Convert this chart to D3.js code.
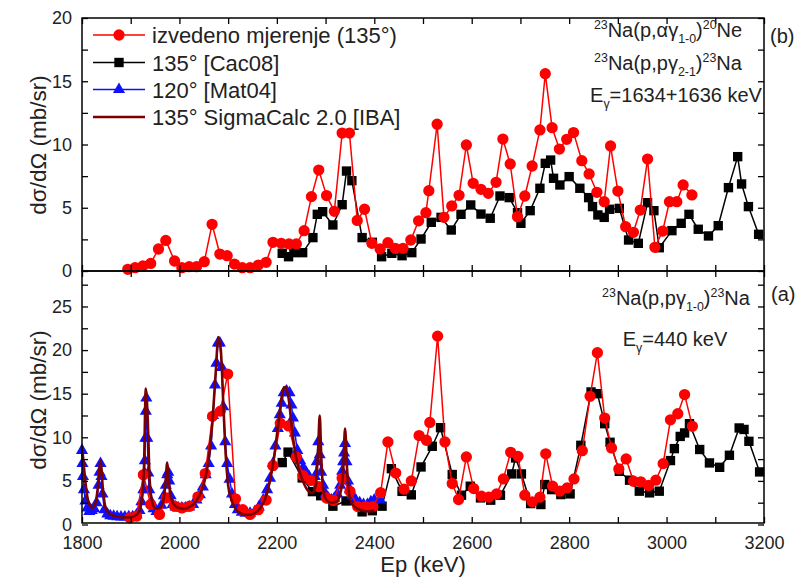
<!DOCTYPE html>
<html><head><meta charset="utf-8">
<script src="https://cdn.jsdelivr.net/npm/d3@7"></script>
<style>body{margin:0;background:#fff} text{font-family:"Liberation Sans",Arial,sans-serif}</style>
</head><body><svg id="c" width="798" height="580"></svg>
<script>
// ---------- DATA ----------
const xTickLabels = [1800, 2000, 2200, 2400, 2600, 2800, 3000, 3200];
const xMinorTicks = [1800,1900,2000,2100,2200,2300,2400,2500,2600,2700,2800,2900,3000,3100,3200];
const topYLabels = [0, 5, 10, 15, 20];
const topYMinor = [0,2.5,5,7.5,10,12.5,15,17.5,20];
const botYLabels = [0, 5, 10, 15, 20, 25];
const botYMinor = [0,2.5,5,7.5,10,12.5,15,17.5,20,22.5,25,27.5];

// panel (b) - red: izvedeno mjerenje (135°)
const topRed = [[1894,0.13],[1909,0.26],[1925,0.4],[1941,0.6],[1957,1.74],[1972,2.42],[1990,0.79],[2005,0.26],[2020,0.34],[2035,0.34],[2051,0.74],[2067,3.69],[2083,1.34],[2098,1.21],[2113,0.55],[2129,0.26],[2145,0.26],[2162,0.47],[2178,0.69],[2192,2.27],[2209,2.19],[2225,2.14],[2240,2.14],[2256,3.19],[2271,5.88],[2286,7.98],[2302,5.96],[2318,4.72],[2334,10.9],[2349,10.9],[2365,4.0],[2380,4.88],[2395,2.19],[2412,1.74],[2428,2.24],[2443,1.79],[2459,1.79],[2475,2.45],[2491,3.97],[2506,4.61],[2512,6.35],[2529,11.6],[2543,4.24],[2559,5.14],[2574,5.98],[2589,9.96],[2603,6.93],[2619,6.46],[2634,6.14],[2650,7.01],[2664,10.43],[2679,8.46],[2694,4.29],[2709,5.93],[2724,8.3],[2740,11.15],[2751,15.6],[2765,11.33],[2780,9.64],[2795,10.41],[2809,10.94],[2826,8.72],[2841,7.67],[2857,6.22],[2872,5.48],[2885,9.88],[2900,6.32],[2916,3.5],[2932,3.06],[2946,4.82],[2961,8.85],[2976,1.87],[2992,3.16],[3006,5.48],[3021,5.48],[3034,6.8],[3052,6.01]];
// panel (b) - black: 135° [Cac08]
const topBlack = [[2211,1.4],[2224,1.13],[2235,1.45],[2253,1.45],[2274,2.64],[2283,4.48],[2294,4.69],[2315,3.64],[2334,5.24],[2343,7.9],[2354,7.14],[2375,2.64],[2396,2.27],[2415,1.13],[2436,1.4],[2457,1.21],[2477,1.45],[2496,2.53],[2517,3.85],[2537,4.24],[2558,3.24],[2578,4.48],[2598,5.22],[2619,4.5],[2638,4.17],[2658,5.93],[2677,5.8],[2694,4.61],[2701,3.77],[2720,4.77],[2740,6.54],[2751,8.51],[2762,8.77],[2768,7.33],[2781,6.8],[2800,7.46],[2822,6.54],[2840,5.8],[2848,5.09],[2859,4.43],[2872,4.24],[2883,4.88],[2903,4.95],[2922,2.45],[2942,2.19],[2961,5.4],[2974,4.77],[2985,1.84],[3011,3.19],[3030,3.77],[3046,4.48],[3065,3.3],[3086,2.77],[3106,3.58],[3127,6.59],[3146,9.04],[3154,6.88],[3168,5.09],[3189,2.9]];

// panel (a) - red
const botRed = [[1898,0.76],[1912,0.95],[1926,5.7],[1941,2.3],[1959,1.15],[1973,3.05],[1990,2.1],[2005,1.9],[2021,2.1],[2038,3.17],[2053,5.84],[2068,12.4],[2084,13.0],[2099,17.25],[2115,2.94],[2130,1.7],[2145,1.15],[2162,1.7],[2178,2.8],[2192,6.75],[2207,11.6],[2224,11.3],[2240,7.75],[2254,5.6],[2270,5.05],[2286,4.35],[2302,3.05],[2316,2.75],[2334,5.3],[2350,3.8],[2366,2.05],[2382,2.05],[2397,2.05],[2413,3.65],[2428,9.47],[2444,5.9],[2461,4.05],[2476,5.0],[2492,10.2],[2507,9.66],[2514,11.7],[2530,21.6],[2545,9.47],[2560,4.7],[2573,2.86],[2589,7.75],[2604,4.12],[2620,3.24],[2635,3.13],[2651,3.5],[2665,5.23],[2680,8.28],[2695,7.82],[2709,3.36],[2724,2.6],[2740,3.13],[2752,8.1],[2766,4.39],[2781,3.82],[2796,4.2],[2810,5.23],[2827,8.47],[2843,14.7],[2858,19.7],[2873,12.2],[2887,8.78],[2902,6.37],[2917,7.52],[2932,4.96],[2947,4.89],[2963,4.47],[2978,5.08],[2993,6.98],[3008,12.0],[3023,12.7],[3037,14.9],[3053,11.26]];
// panel (a) - black
const botBlack = [[2211,7.1],[2223,8.3],[2252,5.34],[2273,3.77],[2290,3.3],[2315,2.1],[2342,2.7],[2375,1.45],[2396,1.58],[2416,2.1],[2435,6.4],[2457,3.8],[2476,3.4],[2496,6.6],[2519,8.97],[2536,11.1],[2560,5.73],[2579,3.36],[2597,4.39],[2618,3.05],[2639,2.79],[2659,3.36],[2682,5.8],[2690,7.63],[2702,5.8],[2721,2.4],[2742,2.29],[2750,4.58],[2764,4.0],[2783,3.43],[2802,3.51],[2824,9.08],[2845,15.2],[2858,15.0],[2873,11.56],[2884,9.43],[2903,6.1],[2924,5.08],[2944,3.82],[2965,3.63],[2985,3.82],[3008,7.33],[3016,8.7],[3028,10.1],[3037,10.5],[3047,11.56],[3068,8.6],[3088,7.06],[3109,6.56],[3129,7.94],[3149,11.07],[3159,10.9],[3169,9.54],[3191,6.03]];
// panel (a) - blue: 120° [Mat04]
const botBlue = [[1800,8.5],[1801,7.0],[1802,5.5],[1804,4.0],[1807,2.7],[1811,1.9],[1815,1.5],[1820,1.6],[1825,1.8],[1830,2.5],[1834,4.5],[1836,6.0],[1838,7.0],[1840,5.5],[1842,3.5],[1846,1.7],[1852,1.2],[1858,1.0],[1865,0.95],[1872,0.9],[1880,0.85],[1888,0.85],[1896,0.9],[1904,0.9],[1912,1.1],[1918,1.6],[1922,2.6],[1926,4.0],[1928,5.9],[1929,7.3],[1930,9.9],[1931,13.0],[1932,14.5],[1934,9.9],[1936,5.9],[1938,4.0],[1942,2.6],[1947,1.8],[1953,1.5],[1958,1.6],[1963,2.2],[1968,3.3],[1972,4.5],[1975,5.7],[1977,6.0],[1979,5.0],[1982,3.3],[1986,2.3],[1992,2.0],[1998,1.9],[2005,1.9],[2012,1.9],[2020,2.0],[2028,2.3],[2035,2.8],[2042,3.4],[2048,4.3],[2054,5.7],[2060,7.0],[2065,9.0],[2069,12.5],[2073,16.0],[2076,18.5],[2079,20.8],[2083,20.8],[2087,18.0],[2090,13.5],[2094,9.5],[2098,7.0],[2103,5.2],[2108,3.5],[2114,2.3],[2120,1.7],[2128,1.4],[2136,1.3],[2145,1.3],[2155,1.5],[2163,2.0],[2172,2.8],[2180,4.0],[2186,5.3],[2192,7.0],[2197,9.0],[2202,11.0],[2206,12.6],[2210,13.9],[2214,15.1],[2220,15.3],[2226,15.1],[2230,13.7],[2233,12.2],[2237,10.5],[2242,8.5],[2248,7.3],[2254,6.5],[2260,6.0],[2266,5.5],[2272,5.0],[2278,5.5],[2282,7.2],[2285,9.5],[2288,8.0],[2291,6.0],[2295,4.5],[2300,3.5],[2306,3.0],[2312,2.8],[2318,3.0],[2324,3.5],[2330,4.5],[2334,6.1],[2336,7.2],[2338,8.2],[2340,9.3],[2343,7.2],[2346,5.0],[2350,4.0],[2355,3.3],[2362,2.8],[2370,2.5],[2378,2.3],[2386,2.3],[2393,2.6],[2400,2.8],[2412,2.8]];
// panel (a) - dark red: 135° SigmaCalc 2.0 [IBA]
const botSigma = [[1800,9.0],[1805,6.0],[1810,3.5],[1815,2.3],[1822,1.9],[1828,2.5],[1833,4.5],[1838,7.3],[1843,4.0],[1848,2.0],[1855,1.3],[1865,1.0],[1880,0.85],[1895,0.8],[1905,0.9],[1915,1.3],[1922,2.5],[1927,6.0],[1931,15.6],[1935,12.0],[1939,5.0],[1945,2.4],[1952,1.8],[1960,1.9],[1966,2.5],[1971,4.5],[1975,7.1],[1979,4.5],[1984,2.8],[1992,2.1],[2000,1.9],[2010,1.8],[2020,2.0],[2030,2.4],[2040,3.2],[2050,4.6],[2060,7.5],[2068,12.0],[2074,17.0],[2080,21.5],[2085,20.0],[2090,14.0],[2095,8.0],[2100,4.5],[2107,2.8],[2115,1.8],[2125,1.3],[2140,1.1],[2155,1.3],[2165,1.8],[2175,2.8],[2185,4.8],[2195,8.0],[2205,12.5],[2213,15.5],[2218,15.8],[2224,14.5],[2232,10.5],[2242,7.0],[2252,5.2],[2262,4.0],[2272,3.6],[2280,4.5],[2285,9.0],[2288,12.5],[2291,8.0],[2295,4.0],[2302,2.8],[2312,2.5],[2322,2.6],[2330,3.5],[2336,6.0],[2340,11.0],[2344,6.5],[2350,3.0],[2360,2.0],[2375,1.6],[2390,1.5],[2400,1.6]];

const legendItems = ["izvedeno mjerenje (135°)", "135° [Cac08]", "120° [Mat04]", "135° SigmaCalc 2.0 [IBA]"];

// ---------- DRAW ----------
const svg = d3.select('#c');
const L = 82, R = 764, T1 = 18, B1 = 271, B2 = 523;
const RED = '#ff0000', BLUE = '#1010ff', DRED = '#7a0000';
const SZ = {circle: 100, square: 88, tri: 64};

const x = d3.scaleLinear().domain([1800, 3200]).range([L, R]);
const yT = d3.scaleLinear().domain([0, 20]).range([B1, T1]);
const yB = d3.scaleLinear().domain([0, 29]).range([524.5, 271.6]);

function series(yS, data, color, width, symType, symSize) {
  const g = svg.append('g');
  g.append('path').datum(data)
    .attr('fill', 'none').attr('stroke', color).attr('stroke-width', width)
    .attr('stroke-linejoin', 'round')
    .attr('d', d3.line().x(d => x(d[0])).y(d => yS(d[1])));
  g.selectAll('path.s').data(data).enter().append('path').attr('class', 's')
    .attr('transform', d => `translate(${x(d[0])},${yS(d[1])})`)
    .attr('d', d3.symbol().type(symType).size(symSize))
    .attr('fill', color);
}

// top panel
series(yT, topBlack, '#000', 1.5, d3.symbolSquare, SZ.square);
series(yT, topRed, RED, 1.5, d3.symbolCircle, SZ.circle);

// bottom panel
series(yB, botBlack, '#000', 1.5, d3.symbolSquare, SZ.square);
series(yB, botBlue, BLUE, 1.5, d3.symbolTriangle, SZ.tri);
series(yB, botRed, RED, 1.5, d3.symbolCircle, SZ.circle);
svg.append('path').datum(botSigma)
  .attr('fill', 'none').attr('stroke', DRED).attr('stroke-width', 2.6)
  .attr('d', d3.line().curve(d3.curveMonotoneX).x(d => x(d[0])).y(d => yB(d[1])));

// frames
[[T1, B1], [B1, B2]].forEach(([a, b]) => {
  svg.append('rect').attr('x', L).attr('y', a).attr('width', R - L).attr('height', b - a)
    .attr('fill', 'none').attr('stroke', '#000').attr('stroke-width', 1.5);
});

function styleAxis(g) {
  g.select('.domain').remove();
  g.selectAll('line').attr('stroke', '#000').attr('stroke-width', 1.3);
  g.selectAll('text').attr('font-family', '"Liberation Sans",Arial,sans-serif').attr('font-size', 18).attr('fill', '#222');
}
const TS = -6;
// x axes
svg.append('g').attr('transform', `translate(0,${B2})`)
  .call(d3.axisBottom(x).tickValues(xMinorTicks).tickSize(TS).tickPadding(13)
    .tickFormat(d => xTickLabels.includes(d) ? d : '')).call(styleAxis);
svg.append('g').attr('transform', `translate(0,${B1})`)
  .call(d3.axisBottom(x).tickValues(xMinorTicks).tickSize(TS).tickFormat('')).call(styleAxis);
svg.append('g').attr('transform', `translate(0,${B1})`)
  .call(d3.axisTop(x).tickValues(xMinorTicks).tickSize(TS).tickFormat('')).call(styleAxis);
svg.append('g').attr('transform', `translate(0,${T1})`)
  .call(d3.axisTop(x).tickValues(xMinorTicks).tickSize(TS).tickFormat('')).call(styleAxis);

// y axes
function yAxes(yS, minor, labels) {
  svg.append('g').attr('transform', `translate(${L},0)`)
    .call(d3.axisLeft(yS).tickValues(minor).tickSize(TS).tickPadding(10)
      .tickFormat(d => labels.includes(d) ? d : '')).call(styleAxis);
  svg.append('g').attr('transform', `translate(${R},0)`)
    .call(d3.axisRight(yS).tickValues(minor).tickSize(TS).tickFormat('')).call(styleAxis);
}
yAxes(yT, topYMinor, topYLabels);
yAxes(yB, botYMinor, botYLabels);

// axis titles
svg.append('text').attr('x', 423).attr('y', 572).attr('text-anchor', 'middle')
  .attr('font-size', 22).attr('fill', '#222').text('Ep (keV)');
[[145], [400]].forEach(([cy]) => {
  svg.append('text').attr('transform', `translate(46,${cy}) rotate(-90)`).attr('text-anchor', 'middle')
    .attr('font-size', 22.5).attr('fill', '#222').text('dσ/dΩ (mb/sr)');
});

// legend
const legY = [35, 62.5, 89.5, 117];
const lg = svg.append('g');
legendItems.forEach((t, i) => {
  const y = legY[i];
  const col = [RED, '#000', BLUE, DRED][i];
  lg.append('line').attr('x1', 93).attr('x2', 145).attr('y1', y).attr('y2', y)
    .attr('stroke', col).attr('stroke-width', i === 3 ? 2.6 : 1.5);
  const sym = [d3.symbolCircle, d3.symbolSquare, d3.symbolTriangle, null][i];
  if (sym) lg.append('path').attr('transform', `translate(119,${y})`)
    .attr('d', d3.symbol().type(sym).size([SZ.circle, SZ.square, SZ.tri][i])).attr('fill', col);
  lg.append('text').attr('x', 152).attr('y', y + 8).attr('font-size', 22).attr('fill', '#222').text(t);
});

// annotations with sub/superscripts
function rich(xc, y, parts, size) {
  const t = svg.append('text').attr('x', xc).attr('y', y).attr('text-anchor', 'middle')
    .attr('font-size', size).attr('fill', '#222');
  let cur = 0;
  parts.forEach(([s, kind]) => {
    const off = kind === 'sup' ? -8 : kind === 'sub' ? 6 : 0;
    t.append('tspan').attr('dy', off - cur).attr('font-size', kind ? size * 0.62 : size).text(s);
    cur = off;
  });
}
rich(668, 37, [['23', 'sup'], ['Na(p,αγ', ''], ['1-0', 'sub'], [')', ''], ['20', 'sup'], ['Ne', '']], 20);
rich(668, 70, [['23', 'sup'], ['Na(p,pγ', ''], ['2-1', 'sub'], [')', ''], ['23', 'sup'], ['Na', '']], 20);
rich(676, 102, [['E', ''], ['γ', 'sub'], ['=1634+1636 keV', '']], 20);
rich(676, 305, [['23', 'sup'], ['Na(p,pγ', ''], ['1-0', 'sub'], [')', ''], ['23', 'sup'], ['Na', '']], 20);
rich(675, 346, [['E', ''], ['γ', 'sub'], ['=440 keV', '']], 20);

svg.append('text').attr('x', 770).attr('y', 43).attr('font-size', 20).attr('fill', '#222').text('(b)');
svg.append('text').attr('x', 771).attr('y', 301).attr('font-size', 20).attr('fill', '#222').text('(a)');
</script></body></html>
